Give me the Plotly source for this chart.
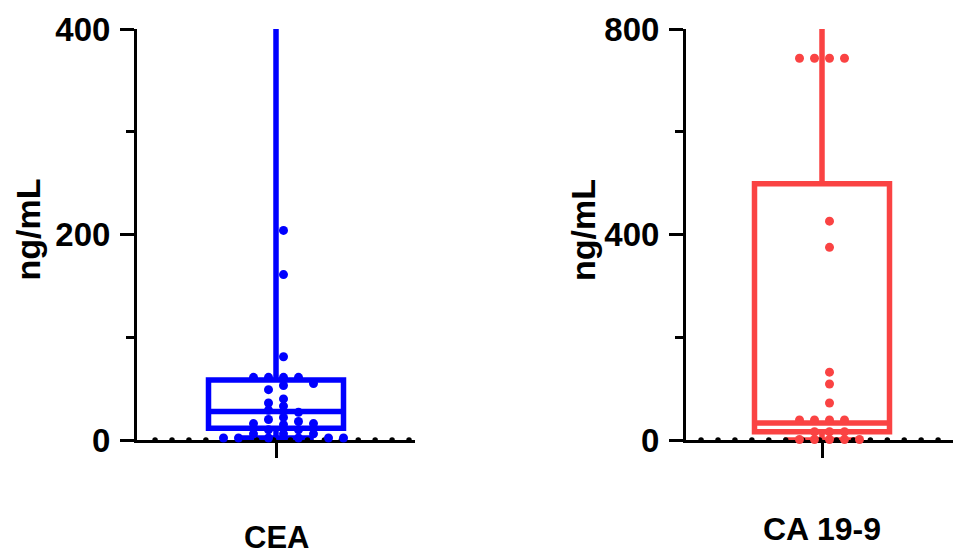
import numpy as np
import plotly.graph_objects as go

# ---------------- data ----------------
categories = ["CEA", "CA 19-9"]
y_titles = ["ng/mL", "ng/mL"]

cea_values = [204, 161, 81, 61, 61, 61, 61, 55, 53, 49, 40, 36, 33, 29, 27,
              22, 20, 18, 16, 16, 15, 10, 10, 6, 6, 6, 2, 2, 2, 2, 2, 2]
ca199_values = [743, 743, 743, 743, 426, 375, 132, 109, 72, 39, 39, 39, 39,
                16, 16, 16, 1, 1, 1, 1, 1]

# box statistics (min-to-max whiskers; max is above the visible axis)
cea_q1, cea_median, cea_q3, cea_min, cea_max = 11.4, 27.7, 58.4, 2, 450
ca_q1, ca_median, ca_q3, ca_min, ca_max = 16, 33, 499, 0, 850

cea_yticks = [0, 200, 400]
ca_yticks = [0, 400, 800]
cea_yrange = [0, 400]
ca_yrange = [0, 800]

# ---------------- styles / layout ----------------
W, H = 953, 556
BLUE = "#0000FF"
RED = "#FA4343"
FONT = "Liberation Sans, Arial, sans-serif"

left_dom = [137 / W, 415 / W]
right_dom = [686 / W, 953 / W]
y_dom = [(H - 440) / H, (H - 29) / H]
PX_PER_X = 139.0
PLOT_H = 411.0


def swarm(values, px_per_y, step_px=15.0, dmin=7.0):
    """Simple beeswarm: returns x offsets (data units) for each value."""
    order = np.argsort(-values, kind="stable")
    slots = sorted([k + 0.5 for k in range(-8, 8)], key=lambda s: (abs(s), -s))
    placed = []
    xs = np.zeros(len(values))
    for i in order:
        yp = values[i] * px_per_y
        for s in slots:
            xp = s * step_px
            if all((xp - qx) ** 2 + (yp - qy) ** 2 >= dmin ** 2 for qx, qy in placed):
                placed.append((xp, yp))
                xs[i] = xp / PX_PER_X
                break
    return xs


fig = go.Figure()

panels = [
    dict(vals=cea_values, stats=(cea_q1, cea_median, cea_q3, cea_min, cea_max),
         color=BLUE, yrange=cea_yrange, xa="x", ya="y",
         xrange=[-139 / PX_PER_X, 139 / PX_PER_X]),
    dict(vals=ca199_values, stats=(ca_q1, ca_median, ca_q3, ca_min, ca_max),
         color=RED, yrange=ca_yrange, xa="x2", ya="y2",
         xrange=[-136 / PX_PER_X, 131 / PX_PER_X]),
]

for p in panels:
    dots_x = np.arange(-0.87, p["xrange"][1] - 0.03, 0.1218)
    fig.add_trace(go.Scatter(
        x=dots_x, y=np.zeros(len(dots_x)), mode="markers",
        marker=dict(color="black", size=5.5), cliponaxis=False,
        xaxis=p["xa"], yaxis=p["ya"], hoverinfo="skip", showlegend=False))

    q1, med, q3, lo, hi = p["stats"]
    fig.add_trace(go.Box(
        x=[0], q1=[q1], median=[med], q3=[q3], lowerfence=[lo], upperfence=[hi],
        width=135 / PX_PER_X, whiskerwidth=0.56, boxpoints=False,
        line=dict(color=p["color"], width=5.5), fillcolor="rgba(0,0,0,0)",
        xaxis=p["xa"], yaxis=p["ya"], showlegend=False))

    px_per_y = PLOT_H / (p["yrange"][1] - p["yrange"][0])
    xs = swarm(np.array(p["vals"], dtype=float), px_per_y)
    fig.add_trace(go.Scatter(
        x=xs, y=p["vals"], mode="markers",
        marker=dict(color=p["color"], size=9), cliponaxis=False,
        xaxis=p["xa"], yaxis=p["ya"], showlegend=False))

tick_font = dict(family=FONT, size=33, color="black", weight="bold")

common_y = dict(showline=True, linecolor="black", linewidth=3, ticks="outside",
                ticklen=14, tickwidth=3, tickcolor="black", showgrid=False,
                zeroline=False, tickfont=tick_font, ticklabelstandoff=3,
                automargin=False)
common_x = dict(showline=True, linecolor="black", linewidth=3, ticks="outside",
                ticklen=15, tickwidth=3, tickcolor="black", showgrid=False,
                zeroline=False, showticklabels=False, tickvals=[0],
                layer="below traces", automargin=False)

fig.update_layout(
    width=W, height=H, margin=dict(l=0, r=0, t=0, b=0, autoexpand=False),
    plot_bgcolor="white", paper_bgcolor="white", showlegend=False,
    xaxis=dict(domain=left_dom, range=panels[0]["xrange"], anchor="y", **common_x),
    xaxis2=dict(domain=right_dom, range=panels[1]["xrange"], anchor="y2", **common_x),
    yaxis=dict(domain=y_dom, range=cea_yrange, anchor="x", tickvals=cea_yticks,
               minor=dict(dtick=100, ticklen=8, tickwidth=3, tickcolor="black",
                          ticks="outside"), **common_y),
    yaxis2=dict(domain=y_dom, range=ca_yrange, anchor="x2", tickvals=ca_yticks,
                minor=dict(dtick=200, ticklen=8, tickwidth=3, tickcolor="black",
                           ticks="outside"), **common_y),
)

title_font = dict(family=FONT, size=34, color="black", weight="bold")
fig.add_annotation(text=y_titles[0], x=27.5 / W, y=(H - 230) / H, xref="paper",
                   yref="paper", textangle=-90, showarrow=False, font=title_font,
                   xanchor="center", yanchor="middle")
fig.add_annotation(text=y_titles[1], x=583 / W, y=(H - 230) / H, xref="paper",
                   yref="paper", textangle=-90, showarrow=False, font=title_font,
                   xanchor="center", yanchor="middle")
fig.add_annotation(text=categories[0], x=276.5 / W, y=(H - 537) / H, xref="paper",
                   yref="paper", showarrow=False,
                   font=dict(family=FONT, size=31, color="black", weight="bold"),
                   xanchor="center", yanchor="middle")
fig.add_annotation(text=categories[1], x=822 / W, y=(H - 529) / H, xref="paper",
                   yref="paper", showarrow=False,
                   font=dict(family=FONT, size=32, color="black", weight="bold"),
                   xanchor="center", yanchor="middle")

fig.write_html("out.html")
